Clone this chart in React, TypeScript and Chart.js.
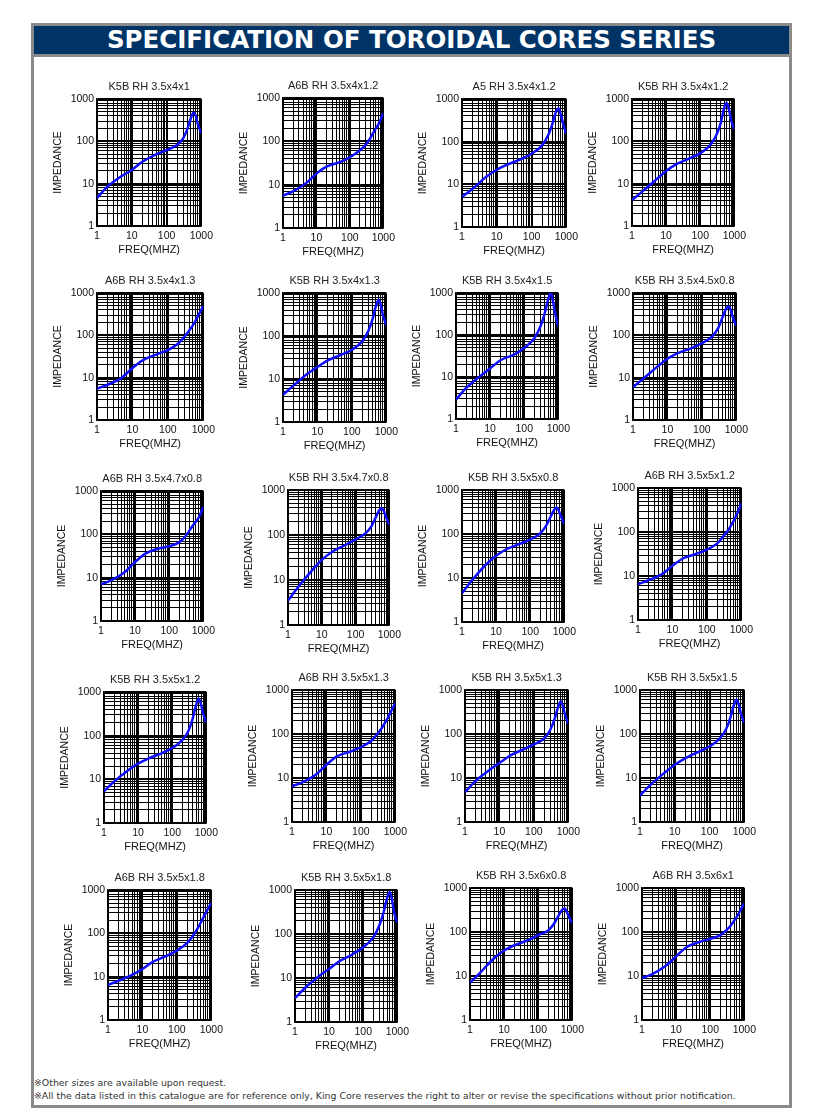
import React, { useEffect, useRef } from "react";
import { Chart, registerables } from "chart.js";
Chart.register(...registerables);

// ---------- data ----------
const FREQ = [1, 2, 5, 10, 20, 50, 100, 200, 300, 400, 500, 600, 700, 800, 1000];
const GRID_TICKS = [1, 2, 3, 4, 5, 6, 7, 8, 9, 10, 20, 30, 40, 50, 60, 70, 80, 90, 100, 200, 300, 400, 500, 600, 700, 800, 900, 1000];
const DECADE_LABELS = [1, 10, 100, 1000];

const TITLES = [
  "K5B RH 3.5x4x1", "A6B RH 3.5x4x1.2", "A5 RH 3.5x4x1.2", "K5B RH 3.5x4x1.2",
  "A6B RH 3.5x4x1.3", "K5B RH 3.5x4x1.3", "K5B RH 3.5x4x1.5", "K5B RH 3.5x4.5x0.8",
  "A6B RH 3.5x4.7x0.8", "K5B RH 3.5x4.7x0.8", "K5B RH 3.5x5x0.8", "A6B RH 3.5x5x1.2",
  "K5B RH 3.5x5x1.2", "A6B RH 3.5x5x1.3", "K5B RH 3.5x5x1.3", "K5B RH 3.5x5x1.5",
  "A6B RH 3.5x5x1.8", "K5B RH 3.5x5x1.8", "K5B RH 3.5x6x0.8", "A6B RH 3.5x6x1",
];

const Z01 = [4.6, 8.5, 15, 21, 33, 49, 62, 82, 118, 200, 350, 480, 390, 250, 156];
const Z02 = [5.6, 7, 11, 18, 26, 33, 43, 62, 84, 115, 156, 200, 240, 300, 450];
const Z03 = [5.1, 7.8, 15, 22, 29, 39, 52, 82, 141, 266, 490, 600, 420, 270, 155];
const Z04 = [4.1, 6.5, 12.3, 20, 29, 40, 52, 83, 143, 270, 610, 800, 560, 323, 195];
const Z05 = [5.5, 6.8, 10, 17, 26, 36, 45, 65, 95, 130, 170, 220, 280, 350, 480];
const Z06 = [4.3, 7, 13, 19, 27, 37, 48, 75, 130, 250, 500, 700, 500, 300, 180];
const Z07 = [2.9, 5.5, 10.4, 16, 25, 34, 49, 85, 161, 333, 690, 1000, 630, 333, 160];
const Z08 = [6, 9.5, 18, 28, 38, 50, 65, 95, 150, 270, 420, 480, 380, 260, 170];
const Z09 = [7, 8.7, 13.5, 23, 36, 47, 53, 66, 90, 125, 162, 195, 230, 280, 426];
const Z10 = [3.5, 7, 16, 28, 42, 60, 80, 110, 160, 250, 350, 400, 330, 250, 170];
const Z11 = [4.5, 9, 20, 32, 45, 60, 75, 105, 160, 250, 350, 400, 330, 250, 170];
const Z12 = [6.5, 8, 11, 17, 25, 32, 40, 55, 80, 105, 140, 180, 230, 290, 450];
const Z13 = [5.3, 9, 16, 23, 30, 40, 52, 80, 130, 250, 500, 700, 520, 330, 200];
const Z14 = [6.5, 8, 12, 20, 31, 40, 50, 70, 100, 135, 180, 230, 290, 360, 500];
const Z15 = [4.8, 8.5, 15, 22, 32, 45, 58, 80, 125, 220, 400, 550, 420, 280, 170];
const Z16 = [4, 7, 13, 20, 28, 40, 52, 80, 130, 240, 450, 600, 450, 290, 180];
const Z17 = [6.5, 8, 11, 15, 22, 30, 40, 60, 90, 130, 180, 240, 300, 370, 500];
const Z18 = [3.5, 6, 11, 16, 24, 35, 50, 85, 160, 320, 650, 900, 600, 320, 180];
const Z19 = [7, 12, 25, 38, 50, 65, 85, 110, 160, 240, 320, 340, 280, 220, 160];
const Z20 = [9, 11, 17, 28, 45, 60, 70, 85, 110, 140, 180, 220, 270, 330, 450];

const SERIES = [Z01, Z02, Z03, Z04, Z05, Z06, Z07, Z08, Z09, Z10, Z11, Z12, Z13, Z14, Z15, Z16, Z17, Z18, Z19, Z20];

// ---------- layout (plot-area rectangles: left, top, right, bottom) ----------
const PLOTS: number[][] = [
  [97, 99, 202, 226], [283, 98, 384, 228], [462, 99, 567, 227], [632, 99, 735, 226],
  [97, 293, 204, 420], [283, 293, 387, 422], [456, 293, 559, 419], [633, 293, 737, 420],
  [101, 491, 204, 621], [288, 490, 390, 625], [462, 490, 565, 622], [638, 488, 742, 620],
  [104, 692, 207, 823], [292, 690, 396, 822], [465, 690, 569, 822], [640, 690, 745, 822],
  [108, 890, 212, 1020], [295, 890, 398, 1022], [470, 888, 573, 1020], [642, 888, 745, 1020],
];

const Y_AXIS_W = 50;
const X_AXIS_H = 36;
const TITLE_H = 22;
const RIGHT_PAD = 16;
const FONT = "'Liberation Sans', Arial, sans-serif";

function ImpedanceChart({ title, values, rect }: { title: string; values: number[]; rect: number[] }) {
  const ref = useRef<HTMLCanvasElement>(null);
  const [pL, pT, pR, pB] = rect;
  const left = pL - Y_AXIS_W;
  const top = pT - TITLE_H;
  const w = pR - pL + Y_AXIS_W + RIGHT_PAD;
  const h = pB - pT + TITLE_H + X_AXIS_H;

  useEffect(() => {
    const isDecade = (v: number) => DECADE_LABELS.includes(v);
    const gridWidth = (ctx: any) => (ctx.tick && isDecade(ctx.tick.value) ? 2 : 1);
    const tickCb = (v: any) => (isDecade(Number(v)) ? String(v) : "");
    const setTicks = (s: any) => {
      s.ticks = GRID_TICKS.map((v) => ({ value: v }));
    };
    const chart = new Chart(ref.current as HTMLCanvasElement, {
      type: "line",
      data: {
        datasets: [
          {
            data: FREQ.map((f, i) => ({ x: f, y: values[i] })),
            borderColor: "#1010ff",
            borderWidth: 2.5,
            pointRadius: 0,
            fill: false,
            cubicInterpolationMode: "monotone",
          },
        ],
      },
      options: {
        animation: false,
        responsive: false,
        maintainAspectRatio: false,
        layout: { padding: { left: 0, right: RIGHT_PAD, top: 0, bottom: 0 } },
        plugins: {
          legend: { display: false },
          tooltip: { enabled: false },
          title: {
            display: true,
            text: title,
            fullSize: false,
            color: "#222",
            font: { family: FONT, size: 11, weight: "normal", lineHeight: 1 },
            padding: { top: 4, bottom: 7 },
          },
        },
        scales: {
          x: {
            type: "logarithmic",
            min: 1,
            max: 1000,
            position: "bottom",
            afterBuildTicks: setTicks,
            afterFit: (s: any) => {
              s.height = X_AXIS_H;
            },
            ticks: {
              autoSkip: false,
              maxRotation: 0,
              padding: 5,
              color: "#111",
              font: { family: FONT, size: 10.5, lineHeight: 1 },
              callback: tickCb,
            },
            grid: { color: "#000", lineWidth: gridWidth, drawTicks: false },
            border: { display: true, color: "#000", width: 1.5 },
            title: {
              display: true,
              text: "FREQ(MHZ)",
              color: "#111",
              font: { family: FONT, size: 11, lineHeight: 1 },
              padding: { top: 0, bottom: 6.5 },
            },
          },
          y: {
            type: "logarithmic",
            min: 1,
            max: 1000,
            position: "left",
            afterBuildTicks: setTicks,
            afterFit: (s: any) => {
              s.width = Y_AXIS_W;
            },
            ticks: {
              autoSkip: false,
              padding: 3,
              color: "#111",
              font: { family: FONT, size: 10.5, lineHeight: 1 },
              callback: tickCb,
            },
            grid: { color: "#000", lineWidth: gridWidth, drawTicks: false },
            border: { display: true, color: "#000", width: 1.5 },
            title: {
              display: true,
              text: "IMPEDANCE",
              color: "#111",
              font: { family: FONT, size: 10.5, lineHeight: 1 },
              padding: { top: 6, bottom: 0 },
            },
          },
        },
      } as any,
    });
    return () => chart.destroy();
  }, []);

  return (
    <canvas
      ref={ref}
      width={w}
      height={h}
      style={{ position: "absolute", left, top, width: w, height: h }}
    />
  );
}

export default function App() {
  return (
    <div style={{ position: "absolute", left: 0, top: 0, width: 820, height: 1115, background: "#fff", overflow: "hidden" }}>
      <div
        style={{
          position: "absolute",
          left: 31,
          top: 23,
          width: 761,
          height: 1085,
          border: "3px solid #8a8a8a",
          boxSizing: "border-box",
        }}
      />
      <div
        style={{
          position: "absolute",
          left: 34,
          top: 26,
          width: 755,
          height: 28,
          background: "#003366",
          color: "#fff",
          fontFamily: "'DejaVu Sans', Verdana, sans-serif",
          fontWeight: "bold",
          fontSize: 24.5,
          lineHeight: "28px",
          textAlign: "center",
          whiteSpace: "nowrap",
        }}
      >
        SPECIFICATION OF TOROIDAL CORES SERIES
      </div>
      <div style={{ position: "absolute", left: 34, top: 54, width: 755, height: 3, background: "#8a8a8a" }} />
      {TITLES.map((t, i) => (
        <ImpedanceChart key={i} title={t} values={SERIES[i]} rect={PLOTS[i]} />
      ))}
      <div
        style={{
          position: "absolute",
          left: 34,
          top: 1076,
          fontFamily: "'DejaVu Sans', Tahoma, sans-serif",
          fontSize: 9.4,
          lineHeight: "13px",
          color: "#333",
          whiteSpace: "nowrap",
        }}
      >
        <div>※Other sizes are available upon request.</div>
        <div>※All the data listed in this catalogue are for reference only, King Core reserves the right to alter or revise the specifications without prior notification.</div>
      </div>
    </div>
  );
}
